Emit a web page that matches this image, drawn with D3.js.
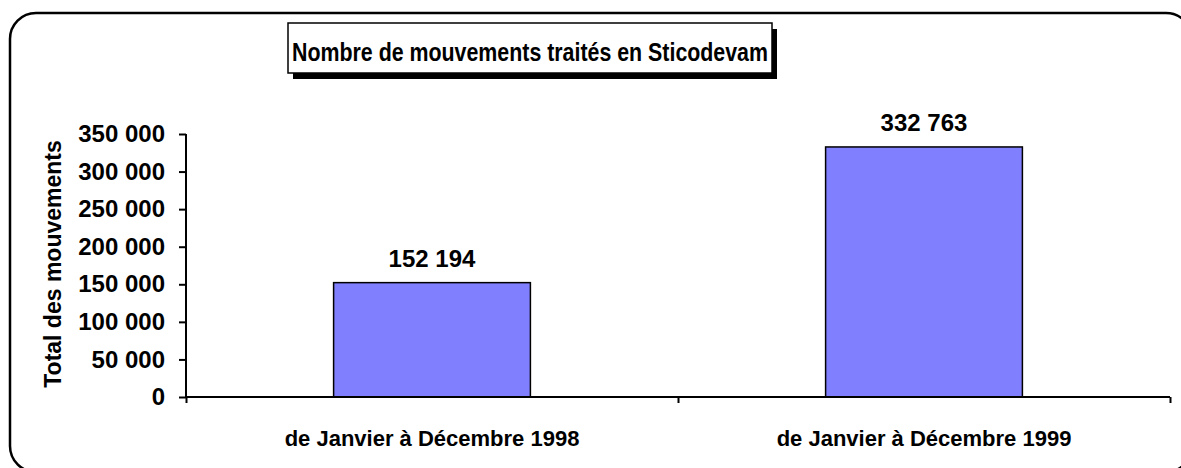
<!DOCTYPE html>
<html>
<head>
<meta charset="utf-8">
<script src="https://cdn.jsdelivr.net/npm/d3@7"></script>
<style>
  body { margin: 0; background: #fff; }
  svg text { font-family: "Liberation Sans", Arial, sans-serif; font-weight: bold; fill: #000; }
</style>
</head>
<body>
<svg id="chart" width="1181" height="468"></svg>
<script>
var categories = ["de Janvier à Décembre 1998", "de Janvier à Décembre 1999"];
var values = [152194, 332763];
var yTicks = [0, 50000, 100000, 150000, 200000, 250000, 300000, 350000];
var title = "Nombre de mouvements traités en Sticodevam";
var yTitle = "Total des mouvements";

var svg = d3.select("#chart");

var fr = d3.formatLocale({ decimal: ",", thousands: " ", grouping: [3], currency: ["", " €"] });
var fmt = fr.format(",d");

// cadre arrondi
svg.append("rect")
    .attr("x", 10).attr("y", 13)
    .attr("width", 1182).attr("height", 459)
    .attr("rx", 26).attr("ry", 26)
    .attr("fill", "none")
    .attr("stroke", "#000")
    .attr("stroke-width", 2.5);

// titre avec ombre
svg.append("rect")
    .attr("x", 293).attr("y", 29)
    .attr("width", 484).attr("height", 50)
    .attr("fill", "#000");
svg.append("rect")
    .attr("x", 288).attr("y", 23)
    .attr("width", 484).attr("height", 50)
    .attr("fill", "#fff")
    .attr("stroke", "#000")
    .attr("stroke-width", 1.5);
svg.append("text")
    .attr("x", 292).attr("y", 61)
    .attr("font-size", 25)
    .attr("textLength", 476)
    .attr("lengthAdjust", "spacingAndGlyphs")
    .text(title);

var y = d3.scaleLinear().domain([0, 350000]).range([397, 134]);
var x = d3.scaleBand().domain(categories).range([186, 1170])
    .paddingInner(0.6).paddingOuter(0.3);
var xEdges = d3.scaleLinear().domain([0, categories.length]).range([186, 1170]);

// barres
svg.selectAll("rect.bar")
    .data(values)
    .enter()
    .append("rect")
    .attr("class", "bar")
    .attr("x", function(d, i) { return x(categories[i]); })
    .attr("y", function(d) { return y(d); })
    .attr("width", x.bandwidth())
    .attr("height", function(d) { return y(0) - y(d); })
    .attr("fill", "#8080FF")
    .attr("stroke", "#000")
    .attr("stroke-width", 1.5);

// axe Y
var gy = svg.append("g")
    .attr("transform", "translate(186,0)")
    .call(d3.axisLeft(y).tickValues(yTicks).tickSize(7).tickPadding(14).tickFormat(fmt));
gy.select(".domain").attr("stroke-width", 2).attr("d", "M0," + y(350000) + "V" + y(0));
gy.selectAll(".tick line").attr("stroke-width", 2);
gy.selectAll(".tick text").attr("font-size", 24).attr("font-family", null);

// axe X
var gx = svg.append("g")
    .attr("transform", "translate(0," + y(0) + ")")
    .call(d3.axisBottom(xEdges).tickValues(d3.range(categories.length + 1)).tickSize(6).tickFormat(""));
gx.select(".domain").attr("stroke-width", 2).attr("d", "M186,0H1170");
gx.selectAll(".tick line").attr("stroke-width", 2);

svg.selectAll("text.cat")
    .data(categories)
    .enter()
    .append("text")
    .attr("class", "cat")
    .attr("x", function(d) { return x(d) + x.bandwidth() / 2; })
    .attr("y", 446)
    .attr("text-anchor", "middle")
    .attr("font-size", 22)
    .text(function(d) { return d; });

// étiquettes de valeurs
svg.selectAll("text.val")
    .data(values)
    .enter()
    .append("text")
    .attr("class", "val")
    .attr("x", function(d, i) { return x(categories[i]) + x.bandwidth() / 2; })
    .attr("y", function(d) { return y(d) - 16; })
    .attr("text-anchor", "middle")
    .attr("font-size", 24)
    .text(function(d) { return fmt(d); });

// titre de l'axe Y
svg.append("text")
    .attr("transform", "translate(61,264) rotate(-90)")
    .attr("text-anchor", "middle")
    .attr("font-size", 23)
    .text(yTitle);
</script>
</body>
</html>
